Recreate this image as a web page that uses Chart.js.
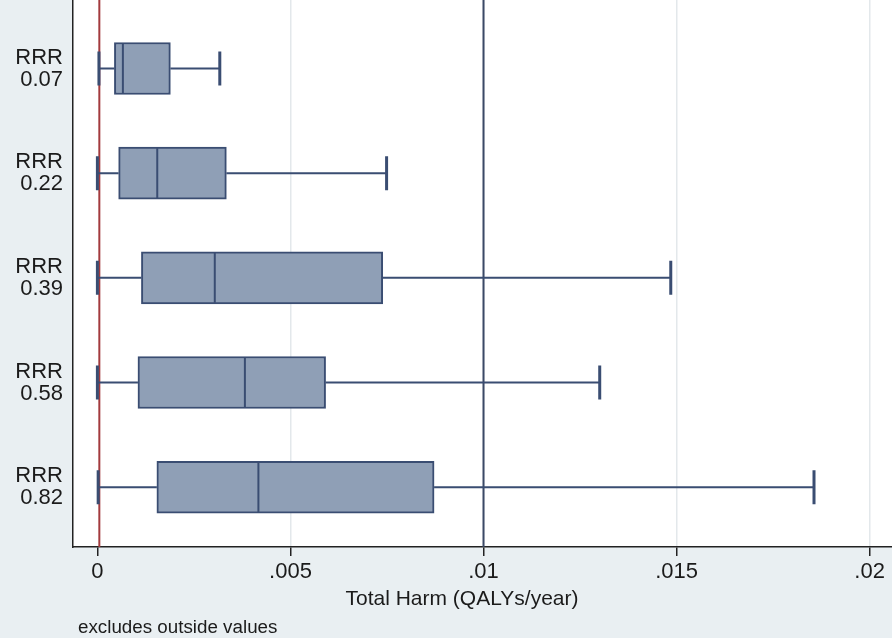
<!DOCTYPE html>
<html>
<head>
<meta charset="utf-8">
<script src="https://cdn.jsdelivr.net/npm/chart.js@4/dist/chart.umd.min.js"></script>
<style>
  html, body { margin: 0; padding: 0; background: #e9eff2; }
  #wrap { width: 892px; height: 638px; }
</style>
</head>
<body>
<div id="wrap"><canvas id="c" width="892" height="638"></canvas></div>
<script>
// Box plot summaries of total harm by relative risk reduction
const groups      = ['0.07', '0.22', '0.39', '0.58', '0.82'];
const whiskerLow  = [0.00004, 0.00000, 0.00000, 0.00000, 0.00002];
const q1          = [0.00044, 0.00055, 0.00114, 0.00105, 0.00154];
const median      = [0.00066, 0.00155, 0.00304, 0.00382, 0.00417];
const q3          = [0.00189, 0.00334, 0.00739, 0.00591, 0.00872];
const whiskerHigh = [0.00317, 0.00749, 0.01485, 0.01301, 0.01856];

const xTicks      = [0, 0.005, 0.01, 0.015, 0.02];
const xTickLabels = ['0', '.005', '.01', '.015', '.02'];

const harmLine = 0.01;      // dark reference line
const zeroLine = 0.00005;   // red reference line

const FONT = '"Liberation Sans", Arial, Helvetica, sans-serif';
const NAVY = '#3a4d72';

const backdrop = {
  id: 'backdrop',
  beforeDraw(chart) {
    const { ctx, chartArea: a, width, height } = chart;
    ctx.save();
    ctx.fillStyle = '#e9eff2';
    ctx.fillRect(0, 0, width, height);
    ctx.fillStyle = '#ffffff';
    ctx.fillRect(a.left, a.top, a.right - a.left, a.bottom - a.top);
    ctx.restore();
  }
};

const boxParts = {
  id: 'boxParts',
  beforeDatasetsDraw(chart) {
    const { ctx, chartArea: a, scales: { x } } = chart;
    ctx.save();
    ctx.beginPath();
    ctx.rect(a.left, a.top, a.right - a.left, a.bottom - a.top);
    ctx.clip();
    ctx.lineWidth = 2;
    ctx.strokeStyle = '#3b4966';
    let px = x.getPixelForValue(harmLine);
    ctx.beginPath(); ctx.moveTo(px, a.top); ctx.lineTo(px, a.bottom); ctx.stroke();
    ctx.strokeStyle = '#a33a3d';
    px = x.getPixelForValue(zeroLine);
    ctx.beginPath(); ctx.moveTo(px, a.top); ctx.lineTo(px, a.bottom); ctx.stroke();
    ctx.restore();
  },
  afterDatasetsDraw(chart) {
    const { ctx, scales: { x, y } } = chart;
    ctx.save();
    ctx.strokeStyle = NAVY;
    groups.forEach((g, i) => {
      const yc = y.getPixelForValue(i);
      const xl = x.getPixelForValue(whiskerLow[i]);
      const x1 = x.getPixelForValue(q1[i]);
      const xm = x.getPixelForValue(median[i]);
      const x3 = x.getPixelForValue(q3[i]);
      const xh = x.getPixelForValue(whiskerHigh[i]);
      // whiskers
      ctx.lineWidth = 2;
      ctx.beginPath();
      ctx.moveTo(xl, yc); ctx.lineTo(x1, yc);
      ctx.moveTo(x3, yc); ctx.lineTo(xh, yc);
      ctx.stroke();
      // median
      ctx.beginPath();
      ctx.moveTo(xm, yc - 25); ctx.lineTo(xm, yc + 25);
      ctx.stroke();
      // caps
      ctx.lineWidth = 3;
      ctx.beginPath();
      ctx.moveTo(xl, yc - 17); ctx.lineTo(xl, yc + 17);
      ctx.moveTo(xh, yc - 17); ctx.lineTo(xh, yc + 17);
      ctx.stroke();
    });
    ctx.restore();
  },
  afterDraw(chart) {
    const { ctx } = chart;
    ctx.save();
    ctx.fillStyle = '#1b1b1b';
    ctx.textBaseline = 'alphabetic';
    ctx.font = '21px ' + FONT;
    ctx.textAlign = 'center';
    ctx.fillText('Total Harm (QALYs/year)', 462, 605);
    ctx.font = '18.8px ' + FONT;
    ctx.textAlign = 'left';
    ctx.fillText('excludes outside values', 78, 633);
    ctx.restore();
  }
};

new Chart(document.getElementById('c'), {
  type: 'bar',
  data: {
    datasets: [{
      data: groups.map((g, i) => ({ y: i, x: [q1[i], q3[i]] })),
      backgroundColor: '#8f9fb6',
      borderColor: NAVY,
      borderWidth: 2,
      borderSkipped: false,
      barThickness: 52
    }]
  },
  options: {
    indexAxis: 'y',
    responsive: false,
    animation: false,
    devicePixelRatio: 1,
    layout: { padding: 0 },
    plugins: { legend: { display: false }, tooltip: { enabled: false } },
    scales: {
      x: {
        type: 'linear',
        min: -0.000632,
        max: 0.02058,
        afterBuildTicks: s => { s.ticks = xTicks.map(v => ({ value: v })); },
        afterFit: s => { s.height = 91; s.paddingLeft = 0; s.paddingRight = 0; },
        ticks: {
          callback: (v, idx) => xTickLabels[idx],
          font: { family: FONT, size: 22 },
          color: '#1b1b1b',
          padding: 3,
          maxRotation: 0
        },
        grid: {
          color: c => (c.tick && c.tick.value === 0) ? 'rgba(0,0,0,0)' : '#e3e8eb',
          lineWidth: 1.5,
          tickLength: 9,
          tickColor: '#222222',
          tickWidth: 1.5
        },
        border: { display: true, color: '#222222', width: 1.5 }
      },
      y: {
        type: 'linear',
        offset: false,
        min: -0.654,
        max: 4.571,
        reverse: true,
        afterBuildTicks: s => { s.ticks = groups.map((g, i) => ({ value: i })); },
        afterFit: s => { s.width = 73; s.paddingTop = 0; s.paddingBottom = 0; },
        ticks: {
          callback: v => ['RRR', groups[v]],
          font: { family: FONT, size: 22, lineHeight: 1.0 },
          color: '#1b1b1b',
          padding: 10
        },
        grid: { offset: false, drawOnChartArea: false, drawTicks: false },
        border: { display: true, color: '#222222', width: 1.5 }
      }
    }
  },
  plugins: [backdrop, boxParts]
});
</script>
</body>
</html>
